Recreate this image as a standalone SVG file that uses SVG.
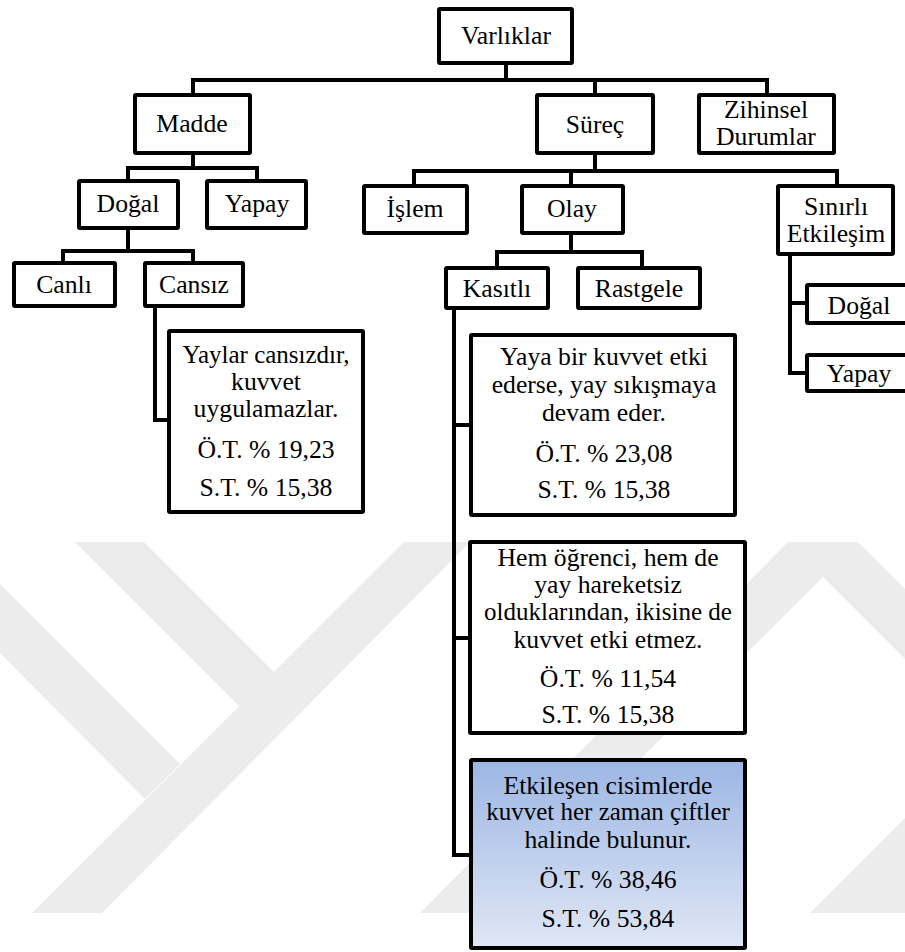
<svg xmlns="http://www.w3.org/2000/svg" width="905" height="952" viewBox="0 0 905 952">
  <defs>
    <linearGradient id="blueFill" x1="0" y1="0" x2="0" y2="1">
      <stop offset="0" stop-color="#9cb6e4"/>
      <stop offset="1" stop-color="#e0e7f5"/>
    </linearGradient>
    <style>
      .box { fill: #ffffff; stroke: #000000; stroke-width: 4; stroke-linejoin: round; }
      .hl { fill: url(#blueFill); }
      .wire { fill: none; stroke: #000000; stroke-width: 4; stroke-linejoin: miter; stroke-linecap: square; }
      .mark { fill: #ececec; }
      text { font-family: "Liberation Serif", "Times New Roman", serif; font-size: 25.7px; fill: #000000; text-anchor: middle; }
      .tight { font-size: 25px; }
    </style>
  </defs>

  <rect width="905" height="952" fill="#ffffff"/>

  <!-- faint background emblem -->
  <g id="emblem">
    <polygon class="mark" points="404,542 470,542 102,913 32,913"/>
    <polygon class="mark" points="75,542 144,542 275,673 240,707"/>
    <polygon class="mark" points="0,584 180,764 145,799 0,653"/>
    <polygon class="mark" points="420,913 486,913 858,542 788,542"/>
    <polygon class="mark" points="788,542 858,542 905,589 905,659"/>
    <polygon class="mark" points="810,913 905,913 905,818"/>
  </g>

  <!-- connectors -->
  <g id="connectors">
    <path class="wire" d="M506,65 V80 M193,80 H767 M193,80 V93 M595,80 V93 M767,80 V93"/>
    <path class="wire" d="M193,155 V168 M128,168 H257 M128,168 V179 M257,168 V179"/>
    <path class="wire" d="M128,230 V251 M63,251 H193 M63,251 V261 M193,251 V261"/>
    <path class="wire" d="M155,308 V420 H167"/>
    <path class="wire" d="M595,155 V171 M414,171 H837 M414,171 V184 M571,171 V184 M837,171 V184"/>
    <path class="wire" d="M571,235 V252 M497,252 H642 M497,252 V266 M642,252 V266"/>
    <path class="wire" d="M454,310 V855 H469 M454,425 H469 M454,638 H468"/>
    <path class="wire" d="M790,256 V373 H805 M790,303 H805"/>
  </g>

  <g id="varliklar">
    <rect class="box" x="439" y="9" width="133" height="54" rx="1"/>
    <text x="506" y="44">Varlıklar</text>
  </g>
  <g id="madde">
    <rect class="box" x="135" y="95" width="115" height="58" rx="1"/>
    <text x="192" y="132">Madde</text>
  </g>
  <g id="surec">
    <rect class="box" x="537" y="95" width="116" height="58" rx="1"/>
    <text x="595" y="133">Süreç</text>
  </g>
  <g id="zihinsel">
    <rect class="box" x="699" y="95" width="135" height="58" rx="1"/>
    <text x="766" y="118">Zihinsel</text>
    <text x="766" y="145">Durumlar</text>
  </g>
  <g id="dogal">
    <rect class="box" x="79" y="181" width="99" height="47" rx="1"/>
    <text x="128" y="212">Doğal</text>
  </g>
  <g id="yapay">
    <rect class="box" x="207" y="181" width="99" height="47" rx="1"/>
    <text x="257" y="212">Yapay</text>
  </g>
  <g id="canli">
    <rect class="box" x="14" y="263" width="101" height="43" rx="1"/>
    <text x="64" y="293">Canlı</text>
  </g>
  <g id="cansiz">
    <rect class="box" x="145" y="263" width="98" height="43" rx="1"/>
    <text x="194" y="293">Cansız</text>
  </g>
  <g id="islem">
    <rect class="box" x="364" y="186" width="103" height="47" rx="1"/>
    <text x="415" y="217">İşlem</text>
  </g>
  <g id="olay">
    <rect class="box" x="522" y="186" width="101" height="47" rx="1"/>
    <text x="572" y="217">Olay</text>
  </g>
  <g id="sinirli">
    <rect class="box" x="778" y="186" width="115" height="68" rx="1"/>
    <text x="836" y="215">Sınırlı</text>
    <text x="836" y="242">Etkileşim</text>
  </g>
  <g id="kasitli">
    <rect class="box" x="446" y="268" width="102" height="40" rx="1"/>
    <text x="497" y="297">Kasıtlı</text>
  </g>
  <g id="rastgele">
    <rect class="box" x="578" y="268" width="122" height="40" rx="1"/>
    <text x="639" y="297">Rastgele</text>
  </g>
  <g id="dogal-etkilesim">
    <rect class="box" x="807" y="285" width="110" height="38" rx="1"/>
    <text x="859" y="314">Doğal</text>
  </g>
  <g id="yapay-etkilesim">
    <rect class="box" x="807" y="355" width="110" height="36" rx="1"/>
    <text x="859" y="382">Yapay</text>
  </g>

  <g id="gorus-cansiz">
    <rect class="box" x="169" y="331" width="194" height="181" rx="1"/>
    <text class="tight" x="266" y="363">Yaylar cansızdır,</text>
    <text x="266" y="390">kuvvet</text>
    <text x="266" y="417">uygulamazlar.</text>
    <text x="266" y="458">Ö.T. % 19,23</text>
    <text x="266" y="496">S.T. % 15,38</text>
  </g>
  <g id="gorus-sikisma">
    <rect class="box" x="471" y="335" width="264" height="180" rx="1"/>
    <text x="604" y="365">Yaya bir kuvvet etki</text>
    <text x="604" y="393">ederse, yay sıkışmaya</text>
    <text x="604" y="421">devam eder.</text>
    <text x="604" y="462">Ö.T. % 23,08</text>
    <text x="604" y="498">S.T. % 15,38</text>
  </g>
  <g id="gorus-hareketsiz">
    <rect class="box" x="470" y="542" width="275" height="191" rx="1"/>
    <text x="608" y="566">Hem öğrenci, hem de</text>
    <text x="608" y="593">yay hareketsiz</text>
    <text class="tight" x="608" y="620">olduklarından, ikisine de</text>
    <text x="608" y="648">kuvvet etki etmez.</text>
    <text x="608" y="687">Ö.T. % 11,54</text>
    <text x="608" y="723">S.T. % 15,38</text>
  </g>
  <g id="gorus-ciftler">
    <rect class="box hl" x="471" y="760" width="274" height="188" rx="1"/>
    <text x="608" y="794">Etkileşen cisimlerde</text>
    <text class="tight" x="608" y="820">kuvvet her zaman çiftler</text>
    <text x="608" y="848">halinde bulunur.</text>
    <text x="608" y="888">Ö.T. % 38,46</text>
    <text x="608" y="927">S.T. % 53,84</text>
  </g>
</svg>
